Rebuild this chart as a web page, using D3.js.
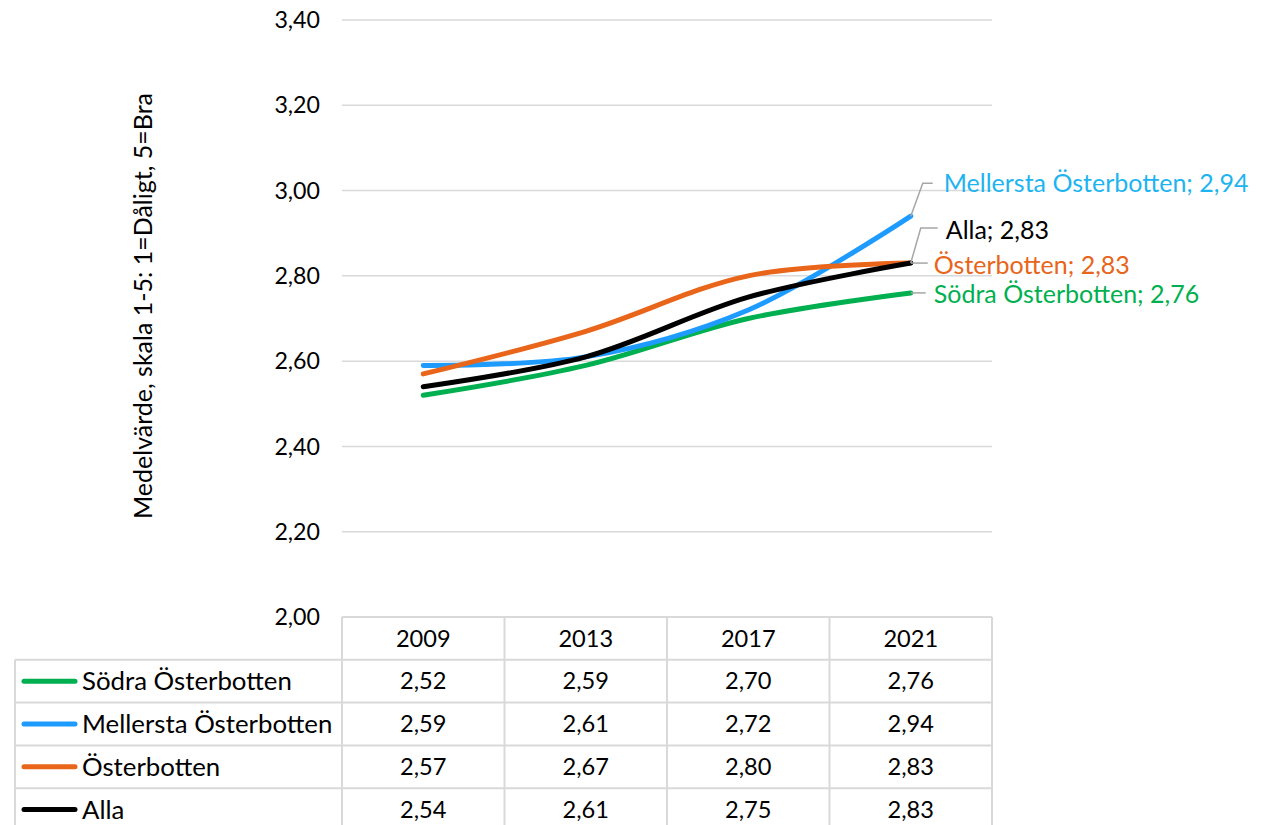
<!DOCTYPE html>
<html><head><meta charset="utf-8">
<script src="https://cdn.jsdelivr.net/npm/d3@7"></script>
<style>
body{margin:0;background:#fff;}
text{font-family:Lato,"Open Sans",sans-serif;}
</style></head>
<body><svg id="c" width="1276" height="825"></svg>
<script>
const years = ["2009","2013","2017","2021"];
const seriesNames = ["Södra Österbotten","Mellersta Österbotten","Österbotten","Alla"];
const sodra = [2.52,2.59,2.70,2.76];
const mellersta = [2.59,2.61,2.72,2.94];
const osterbotten = [2.57,2.67,2.80,2.83];
const alla = [2.54,2.61,2.75,2.83];
const yTicks = [2.0,2.2,2.4,2.6,2.8,3.0,3.2,3.4];
const lineColors = ["#00B050","#1E9BFF","#E8651A","#000000"];
const labelColors = ["#00B050","#1EB4F0","#E8651A","#000000"];
const yTitle = "Medelvärde, skala 1-5: 1=Dåligt, 5=Bra";

const series = [sodra, mellersta, osterbotten, alla];
const fmt = v => v.toFixed(2).replace(".", ",");

const svg = d3.select("#c");
const pLeft = 342, pRight = 992, pTop = 20, pBottom = 617;
const x = d3.scaleBand().domain(years).range([pLeft, pRight]);
const y = d3.scaleLinear().domain([2.0, 3.4]).range([pBottom, pTop]);
const grid = "#D9D9D9";
const FS = 25, FS_NUM = 23.6, FS_ROW = 25.8, FS_TICK = 23.2;

svg.append("g").selectAll("line").data(yTicks.slice(1)).join("line")
  .attr("x1", pLeft).attr("x2", pRight)
  .attr("y1", d => y(d)).attr("y2", d => y(d))
  .attr("stroke", grid).attr("stroke-width", 1.5);

svg.append("g").selectAll("text").data(yTicks).join("text")
  .attr("x", 320).attr("y", d => y(d)).attr("dy", "0.35em")
  .attr("text-anchor", "end").attr("font-size", FS_TICK).attr("fill", "#000")
  .text(d => fmt(d));

svg.append("text")
  .attr("transform", `translate(152,${(97+515)/2}) rotate(-90)`)
  .attr("text-anchor", "middle").attr("font-size", FS).attr("fill", "#000")
  .text(yTitle);

const line = d3.line().x((d,i) => x(years[i]) + x.bandwidth()/2).y(d => y(d))
  .curve(d3.curveCatmullRom.alpha(0.5));
svg.append("g").selectAll("path").data(series).join("path")
  .attr("d", d => line(d)).attr("fill", "none")
  .attr("stroke", (d,i) => lineColors[i]).attr("stroke-width", 5)
  .attr("stroke-linecap", "round");

const lastX = x(years[3]) + x.bandwidth()/2;
const labelOffsets = [
  {s:0, tx:23, ty:10, leader:[[0,0],[15,0]]},
  {s:1, tx:33, ty:-24, leader:[[0,0],[12,-33],[22,-33]]},
  {s:2, tx:23, ty:11, leader:[[0,0],[17,0]]},
  {s:3, tx:35, ty:-24, leader:[[0,0],[10,-35],[27,-35]]}
];
const lg = svg.append("g");
labelOffsets.forEach(o => {
  const v = series[o.s][3];
  const py = y(v);
  lg.append("polyline")
    .attr("points", o.leader.map(p => [lastX + p[0], py + p[1]].join(",")).join(" "))
    .attr("fill", "none").attr("stroke", "#A6A6A6").attr("stroke-width", 1.5);
  lg.append("text").attr("x", lastX + o.tx).attr("y", py + o.ty)
    .attr("font-size", FS).attr("fill", labelColors[o.s])
    .text(`${seriesNames[o.s]}; ${fmt(v)}`);
});

const tTop = 617, rowH = 42.8, tLeft = 15;
const tg = svg.append("g");
tg.append("line").attr("x1", pLeft).attr("x2", pRight).attr("y1", tTop).attr("y2", tTop)
  .attr("stroke", grid).attr("stroke-width", 2);
for (let r = 1; r <= 4; r++) {
  tg.append("line").attr("x1", tLeft).attr("x2", pRight)
    .attr("y1", tTop + r*rowH).attr("y2", tTop + r*rowH)
    .attr("stroke", grid).attr("stroke-width", 2);
}
tg.append("line").attr("x1", tLeft).attr("x2", tLeft).attr("y1", tTop + rowH).attr("y2", 830)
  .attr("stroke", grid).attr("stroke-width", 2);
[...years.map(yr => x(yr)), pRight].forEach(xx => {
  tg.append("line").attr("x1", xx).attr("x2", xx).attr("y1", tTop).attr("y2", 830)
    .attr("stroke", grid).attr("stroke-width", 2);
});
tg.selectAll("text.h").data(years).join("text").attr("class","h")
  .attr("x", d => x(d) + x.bandwidth()/2).attr("y", tTop + rowH/2).attr("dy", "0.35em")
  .attr("text-anchor", "middle").attr("font-size", FS_NUM).text(d => d);
series.forEach((s, i) => {
  const cy = tTop + rowH*(i+1) + rowH/2;
  tg.append("line").attr("x1", 24).attr("x2", 75).attr("y1", cy).attr("y2", cy)
    .attr("stroke", lineColors[i]).attr("stroke-width", 5).attr("stroke-linecap", "round");
  tg.append("text").attr("x", 82).attr("y", cy).attr("dy", "0.35em")
    .attr("font-size", FS_ROW).text(seriesNames[i]);
  s.forEach((v, j) => {
    tg.append("text").attr("x", x(years[j]) + x.bandwidth()/2).attr("y", cy).attr("dy", "0.35em")
      .attr("text-anchor", "middle").attr("font-size", FS_NUM).text(fmt(v));
  });
});
</script></body></html>
